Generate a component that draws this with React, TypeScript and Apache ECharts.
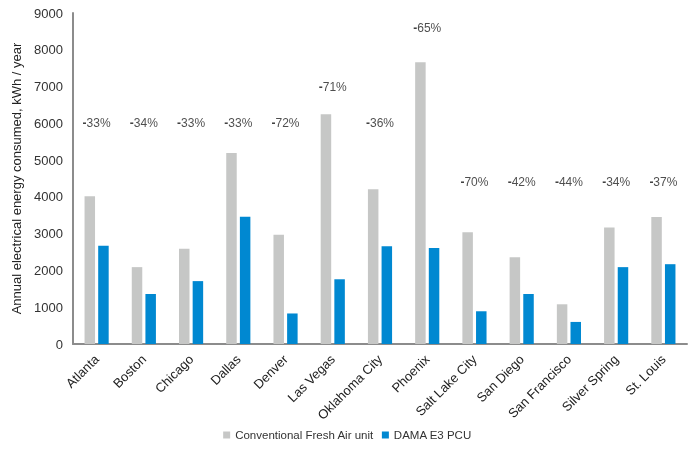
import React, { useEffect, useRef } from "react";
import * as echarts from "echarts";

const cities = ["Atlanta", "Boston", "Chicago", "Dallas", "Denver", "Las Vegas", "Oklahoma City", "Phoenix", "Salt Lake City", "San Diego", "San Francisco", "Silver Spring", "St. Louis"];
const conventional = [4020, 2090, 2590, 5190, 2970, 6250, 4210, 7660, 3040, 2360, 1080, 3170, 3450];
const dama = [2670, 1360, 1710, 3460, 830, 1760, 2660, 2610, 890, 1360, 600, 2090, 2170];
const savings = ["-33%", "-34%", "-33%", "-33%", "-72%", "-71%", "-36%", "-65%", "-70%", "-42%", "-44%", "-34%", "-37%"];
const savingsLabelY = [6000, 6000, 6000, 6000, 6000, 7000, 6000, 8600, 4400, 4400, 4400, 4400, 4400];

const FONT = "Liberation Sans, Arial, sans-serif";

export default function App() {
  const ref = useRef<HTMLDivElement>(null);
  useEffect(() => {
    const chart = echarts.init(ref.current!, null, { renderer: "svg" });
    chart.setOption({
      animation: false,
      textStyle: { fontFamily: FONT },
      grid: { left: 73, right: 8, top: 13, bottom: 106 },
      legend: {
        bottom: 4,
        left: "center",
        itemWidth: 7,
        itemHeight: 7,
        itemGap: 8,
        icon: "rect",
        textStyle: { fontSize: 11.5, color: "#333", fontFamily: FONT },
        data: ["Conventional Fresh Air unit", "DAMA E3 PCU"],
      },
      xAxis: {
        type: "category",
        data: cities,
        axisLine: { lineStyle: { color: "#8c8c8c", width: 2 } },
        axisTick: { show: false },
        axisLabel: { rotate: 45, fontSize: 13, color: "#222", margin: 13, interval: 0, fontFamily: FONT },
      },
      yAxis: {
        type: "value",
        min: 0,
        max: 9000,
        interval: 1000,
        name: "Annual electrical energy consumed, kWh / year",
        nameLocation: "middle",
        nameGap: 46,
        nameTextStyle: { fontSize: 13, color: "#222", fontFamily: FONT },
        axisLine: { show: true, lineStyle: { color: "#8c8c8c", width: 2 } },
        axisTick: { show: false },
        splitLine: { show: false },
        axisLabel: { fontSize: 13, color: "#333", margin: 10, fontFamily: FONT, formatter: (v: number) => String(v) },
      },
      series: [
        {
          name: "Conventional Fresh Air unit",
          type: "bar",
          data: conventional,
          barWidth: 10.5,
          barGap: "30%",
          itemStyle: { color: "#c6c7c6" },
        },
        {
          name: "DAMA E3 PCU",
          type: "bar",
          data: dama,
          barWidth: 10.5,
          barGap: "30%",
          itemStyle: { color: "#0088d1" },
        },
        {
          name: "savings",
          type: "scatter",
          symbolSize: 0,
          data: savingsLabelY.map((y, i) => [i, y]),
          silent: true,
          label: {
            show: true,
            position: "inside",
            formatter: (p: any) => {
              const t = savings[p.dataIndex];
              return "{d|-}{n|" + t.slice(1) + "}";
            },
            rich: {
              d: { fontSize: 12, fontWeight: "bold", color: "#111", fontFamily: FONT },
              n: { fontSize: 12, color: "#222", fontFamily: FONT },
            },
          },
        },
      ],
    });
    return () => chart.dispose();
  }, []);
  return <div ref={ref} style={{ position: "fixed", left: 0, top: 0, width: 695, height: 450 }} />;
}
